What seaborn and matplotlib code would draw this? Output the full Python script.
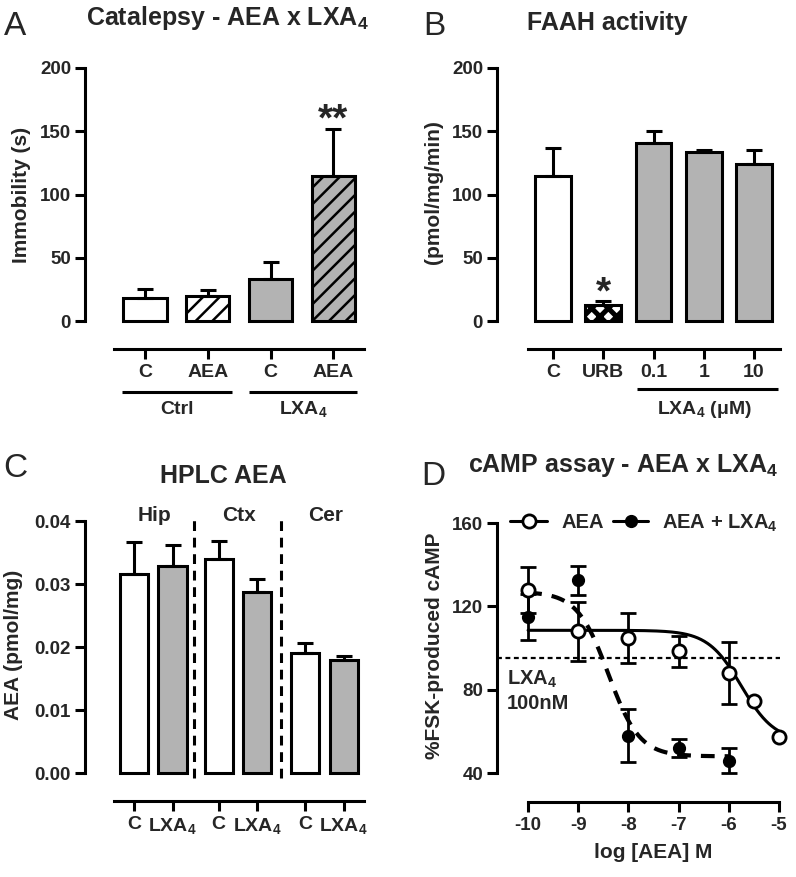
import numpy as np
import matplotlib
matplotlib.use("Agg")
import matplotlib.pyplot as plt
import matplotlib.lines as mlines
from matplotlib.ticker import FormatStrFormatter
import seaborn as sns

# ---------------- data ----------------
# Panel A: Catalepsy
a_keys = ["Ctrl C", "Ctrl AEA", "LXA4 C", "LXA4 AEA"]
a_ticklabels = ["C", "AEA", "C", "AEA"]
a_mean = [18, 20, 33, 115]
a_sem = [7, 4.5, 14, 37]
a_groups = ["Ctrl", "LXA$_4$"]

# Panel B: FAAH activity
b_labels = ["C", "URB", "0.1", "1", "10"]
b_mean = [115, 13, 141, 134, 124]
b_sem = [22, 2.5, 9, 0.8, 11]

# Panel C: HPLC AEA
c_regions = ["Hip", "Ctx", "Cer"]
c_treat = ["C", "LXA4", "C", "LXA4", "C", "LXA4"]
c_ticklabels = ["C", "LXA$_4$", "C", "LXA$_4$", "C", "LXA$_4$"]
c_mean = [0.0316, 0.0329, 0.0339, 0.0287, 0.0190, 0.0179]
c_sem = [0.0051, 0.0033, 0.0030, 0.0021, 0.0017, 0.0007]

# Panel D: cAMP assay
d_logx_aea = [-10, -9, -8, -7, -6, -5.5, -5]
d_aea = [128, 108, 105, 98.5, 88, 74.5, 57.5]
d_aea_sem = [11, 14, 12, 7.5, 15, 0, 0]
d_logx_lxa = [-10, -9, -8, -7, -6]
d_lxa = [115, 132.5, 58, 52, 46]
d_lxa_sem = [11, 7, 12.5, 4.5, 6]
# sigmoidal fit parameters (top, bottom, logEC50, hill)
aea_fit = (108.5, 55, -5.75, 1.3)
lxa_fit = (127, 48, -8.4, 1.4)
lxa_baseline = 95

# ---------------- style ----------------
sns.set_theme(style="ticks")
plt.rcParams["font.family"] = ["Liberation Sans", "DejaVu Sans"]
plt.rcParams["font.weight"] = "bold"
plt.rcParams["axes.labelweight"] = "bold"
plt.rcParams["mathtext.fontset"] = "custom"
plt.rcParams["mathtext.rm"] = "Liberation Sans:bold"
plt.rcParams["mathtext.it"] = "Liberation Sans:bold"
plt.rcParams["mathtext.bf"] = "Liberation Sans:bold"
plt.rcParams["mathtext.default"] = "rm"
plt.rcParams["axes.unicode_minus"] = False
plt.rcParams["hatch.linewidth"] = 1.8

GRAY = "#b3b3b3"
LW = 2.2
W, H = 796, 877
fig = plt.figure(figsize=(W / 100, H / 100), dpi=100)

YT_FS = 13.5
XT_FS = 14
LABEL_FS = 15
TITLE_FS = 18
LETTER_FS = 24
GROUP_FS = 14
STAR_FS = 28


def add_ax(l, t, r, b):
    return fig.add_axes([l / W, 1 - b / H, (r - l) / W, (b - t) / H])


def ftext(x, y, s, **kw):
    return fig.text(x / W, 1 - y / H, s, **kw)


def style_ax(ax):
    sns.despine(ax=ax)
    ax.set_facecolor("none")
    ax.grid(False)
    for sp in ("left", "bottom"):
        ax.spines[sp].set_linewidth(LW)
        ax.spines[sp].set_color("black")
    ax.tick_params(axis="both", width=LW, length=7, color="black", direction="out")
    ax.tick_params(axis="y", labelsize=YT_FS, pad=3)
    ax.tick_params(axis="x", labelsize=XT_FS, pad=4)
    ax.set_xlabel("")


def sorted_patches(ax):
    return sorted(ax.patches, key=lambda p: p.get_x())


# ---------------- Panel A ----------------
axA = add_ax(85, 68, 364, 349)
a_colors = ["white", "white", GRAY, GRAY]
sns.barplot(x=a_keys, y=a_mean, hue=a_keys, order=a_keys, hue_order=a_keys,
            palette=a_colors, legend=False, errorbar=None, saturation=1,
            width=0.69, edgecolor="black", linewidth=LW, ax=axA)
for p, h in zip(sorted_patches(axA), ["", "//", "", "//"]):
    p.set_hatch(h)
axA.errorbar(range(4), a_mean, yerr=[np.zeros(4), a_sem], fmt="none",
             ecolor="black", elinewidth=LW, capsize=6, capthick=LW, zorder=3)
style_ax(axA)
axA.set_xlim(-0.957, 3.49)
axA.set_ylim(-22.1, 200)
axA.spines["left"].set_bounds(0, 200)
axA.spines["bottom"].set_bounds(-0.49, 3.49)
axA.set_yticks([0, 50, 100, 150, 200])
axA.set_xticks(range(4))
axA.set_xticklabels(a_ticklabels)
axA.set_ylabel("Immobility (s)", fontsize=LABEL_FS, va="center")
axA.yaxis.set_label_coords((22 - 85) / 279, 1 - (195 - 68) / 281)
tr = axA.get_xaxis_transform()
ly = -(392 - 349) / 281
ty = -(409 - 349) / 281
for (x0, x1), g in zip([(-0.367, 1.39), (1.66, 3.38)], a_groups):
    axA.plot([x0, x1], [ly, ly], transform=tr, clip_on=False, color="black",
             lw=LW, solid_capstyle="butt")
    axA.text((x0 + x1) / 2, ty, g, transform=tr, ha="center", va="center",
             fontsize=GROUP_FS)
axA.text(3, 151, "**", ha="center", va="baseline", fontsize=STAR_FS)
ftext(227, 25, "Catalepsy - AEA x LXA$_4$", ha="center", va="baseline",
      fontsize=TITLE_FS)
ftext(4, 35, "A", ha="left", va="baseline", fontsize=LETTER_FS,
      fontweight="normal")

# ---------------- Panel B ----------------
axB = add_ax(497, 68, 780, 349)
b_colors = ["white", "white", GRAY, GRAY, GRAY]
with plt.rc_context({"hatch.linewidth": 3.6}):
    sns.barplot(x=b_labels, y=b_mean, hue=b_labels, order=b_labels,
                hue_order=b_labels, palette=b_colors, legend=False,
                errorbar=None, saturation=1, width=0.716, edgecolor="black",
                linewidth=LW, ax=axB)
for p, h in zip(sorted_patches(axB), ["", "xx", "", "", ""]):
    p.set_hatch(h)
    if h and hasattr(p, "set_hatch_linewidth"):
        p.set_hatch_linewidth(3.6)
axB.errorbar(range(5), b_mean, yerr=[np.zeros(5), b_sem], fmt="none",
             ecolor="black", elinewidth=LW, capsize=6, capthick=LW, zorder=3)
style_ax(axB)
axB.set_xlim(-1.114, 4.517)
axB.set_ylim(-22.1, 200)
axB.spines["left"].set_bounds(0, 200)
axB.spines["bottom"].set_bounds(-0.4975, 4.517)
axB.set_yticks([0, 50, 100, 150, 200])
axB.set_xticks(range(5))
axB.set_xticklabels(b_labels)
axB.set_ylabel("(pmol/mg/min)", fontsize=LABEL_FS, va="center")
axB.yaxis.set_label_coords((433 - 497) / 283, 1 - (192 - 68) / 281)
trB = axB.get_xaxis_transform()
lyB = -(389 - 349) / 281
tyB = -(409 - 349) / 281
axB.plot([1.67, 4.48], [lyB, lyB], transform=trB, clip_on=False,
         color="black", lw=LW, solid_capstyle="butt")
axB.text(3.02, tyB, "LXA$_4$ (\u03bcM)", transform=trB, ha="center",
         va="center", fontsize=GROUP_FS)
axB.text(1, 14, "*", ha="center", va="baseline", fontsize=STAR_FS)
ftext(607, 30, "FAAH activity", ha="center", va="baseline", fontsize=TITLE_FS)
ftext(423, 35, "B", ha="left", va="baseline", fontsize=LETTER_FS,
      fontweight="normal")

# ---------------- Panel C ----------------
axC = add_ax(85, 521, 364, 801)
c_pos = [0, 1, 2.2, 3.2, 4.45, 5.45]
sns.barplot(x=c_pos, y=c_mean, hue=c_treat, palette={"C": "white", "LXA4": GRAY},
            native_scale=True, dodge=False, legend=False, errorbar=None,
            saturation=1, width=0.73, edgecolor="black", linewidth=LW, ax=axC)
axC.errorbar(c_pos, c_mean, yerr=[np.zeros(6), c_sem], fmt="none",
             ecolor="black", elinewidth=LW, capsize=6, capthick=LW, zorder=3)
style_ax(axC)
axC.set_xlim(-1.273, 5.974)
axC.set_ylim(-0.00444, 0.04)
axC.spines["left"].set_bounds(0, 0.04)
axC.spines["bottom"].set_bounds(-0.52, 5.974)
axC.set_yticks([0, 0.01, 0.02, 0.03, 0.04])
axC.yaxis.set_major_formatter(FormatStrFormatter("%.2f"))
axC.set_xticks(c_pos)
axC.set_xticklabels(c_ticklabels)
axC.set_ylabel("AEA (pmol/mg)", fontsize=LABEL_FS, va="center")
axC.yaxis.set_label_coords((14 - 85) / 279, 1 - (645 - 521) / 280)
for xv in [1.558, 3.818]:
    axC.plot([xv, xv], [-0.0008, 0.041], color="black", lw=LW,
             ls=(0, (3.2, 2.2)), clip_on=False)
for i, reg in enumerate(c_regions):
    xc = (c_pos[2 * i] + c_pos[2 * i + 1]) / 2 + 0.03
    axC.text(xc, 0.04, reg, ha="center", va="baseline", fontsize=LABEL_FS)
ftext(223, 483, "HPLC AEA", ha="center", va="baseline", fontsize=TITLE_FS)
ftext(3, 477, "C", ha="left", va="baseline", fontsize=LETTER_FS,
      fontweight="normal")

# ---------------- Panel D ----------------
axD = add_ax(497, 523, 782, 802)


def logistic(x, top, bottom, logec50, hill):
    return bottom + (top - bottom) / (1 + 10 ** ((x - logec50) * hill))


xs_aea = np.linspace(min(d_logx_aea), max(d_logx_aea), 300)
xs_lxa = np.linspace(min(d_logx_lxa), max(d_logx_lxa), 300)
sns.lineplot(x=xs_aea, y=logistic(xs_aea, *aea_fit), color="black", lw=2.2,
             ax=axD, zorder=2)
sns.lineplot(x=xs_lxa, y=logistic(xs_lxa, *lxa_fit), color="black", lw=3,
             linestyle=(0, (3.3, 2.4)), ax=axD, zorder=2)
axD.plot([-10.62, -4.98], [lxa_baseline, lxa_baseline], color="black", lw=1.6,
         ls=(0, (2.2, 1.6)), zorder=1)

ea = [(x, y, s) for x, y, s in zip(d_logx_aea, d_aea, d_aea_sem) if s > 0]
axD.errorbar([e[0] for e in ea], [e[1] for e in ea], yerr=[e[2] for e in ea],
             fmt="none", ecolor="black", elinewidth=2, capsize=6, capthick=2,
             zorder=3, clip_on=False)
axD.errorbar(d_logx_lxa, d_lxa, yerr=d_lxa_sem, fmt="none", ecolor="black",
             elinewidth=2, capsize=6, capthick=2, zorder=3, clip_on=False)
sns.scatterplot(x=d_logx_lxa, y=d_lxa, marker="o", s=8.5 ** 2, color="black",
                edgecolor="black", linewidth=1, zorder=5, clip_on=False, ax=axD)
sns.scatterplot(x=d_logx_aea, y=d_aea, marker="o", s=9.5 ** 2, color="white",
                edgecolor="black", linewidth=2, zorder=6, clip_on=False, ax=axD)
style_ax(axD)
axD.set_xlim(-10.62, -4.94)
axD.set_ylim(26.08, 160)
axD.spines["left"].set_bounds(40, 160)
axD.spines["bottom"].set_bounds(-10, -5)
axD.set_yticks([40, 80, 120, 160])
axD.set_xticks([-10, -9, -8, -7, -6, -5])
axD.tick_params(axis="x", labelsize=YT_FS)
axD.set_ylabel("%FSK-produced cAMP", fontsize=LABEL_FS, va="center")
axD.yaxis.set_label_coords((435 - 497) / 285, 1 - (646 - 523) / 279)
axD.set_xlabel("log [AEA] M", fontsize=LABEL_FS, va="center")
axD.xaxis.set_label_coords((653 - 497) / 285, -(853 - 802) / 279)
axD.text(-10.43, 90, "LXA$_4$\n100nM", ha="left", va="top", fontsize=14.5,
         linespacing=1.25)


# legend (drawn in figure pixels)
def legend_item(x0, x1, y, mfc, ms, mew):
    xm = (x0 + x1) / 2
    fig.add_artist(mlines.Line2D([x0 / W, xm / W, x1 / W], [1 - y / H] * 3,
                                 color="black", lw=2.2, marker="o",
                                 markevery=[1], mfc=mfc, mec="black", ms=ms,
                                 mew=mew))


legend_item(510, 547, 521, "white", 9.5, 2)
ftext(561, 523, "AEA", ha="left", va="center", fontsize=14.5)
legend_item(613, 648, 521, "black", 8.5, 1)
ftext(662, 523, "AEA + LXA$_4$", ha="left", va="center", fontsize=14.5)

ftext(623, 472, "cAMP assay - AEA x LXA$_4$", ha="center", va="baseline",
      fontsize=TITLE_FS)
ftext(421, 485, "D", ha="left", va="baseline", fontsize=LETTER_FS,
      fontweight="normal")

fig.savefig("out.png", dpi=100)
